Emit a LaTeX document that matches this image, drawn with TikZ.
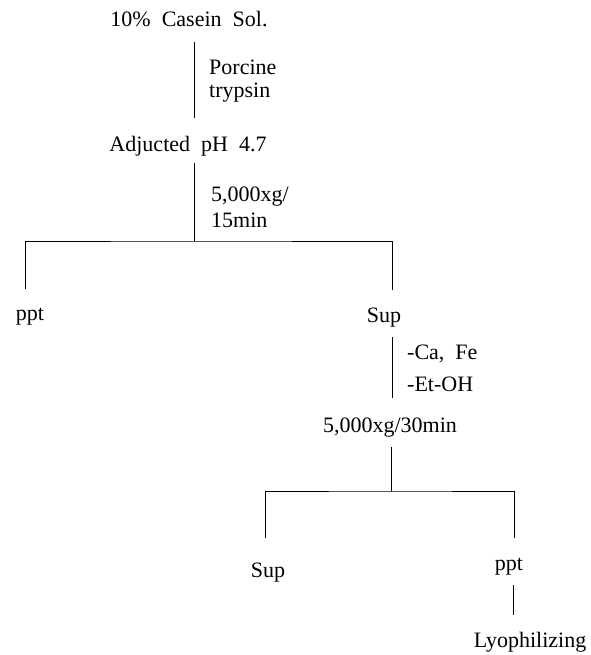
\documentclass[tikz,border=0pt]{standalone}
\usepackage{fontspec}
\setmainfont{Liberation Serif}
\usepackage{tikz}
\usetikzlibrary{positioning}
\tikzset{stage node/.style={inner sep=0pt,font=\fontsize{22}{23}\selectfont},
 note node/.style={stage node,align=left},
 flow line/.style={draw,line width=1pt},}

\begin{document}
\begin{tikzpicture}[x=1pt,y=-1pt]
	\useasboundingbox (0,0) rectangle (590,655);

    \node[stage node,anchor=base] (1) at (189,27) {10\%\hspace{11pt}Casein\hspace{11pt}Sol.};
    \node[stage node,anchor=base] (2) at (188,152) {Adjucted\hspace{11pt}pH\hspace{11pt}4.7};
    \node[stage node,anchor=base] (3) at (30,320) {ppt};
    \node[stage node,anchor=base] (4) at (384,322) {Sup};
    \node[stage node,anchor=base] (5) at (390,432) {5,000xg/30min};
    \node[stage node,anchor=base] (6) at (268,577) {Sup};
    \node[stage node,anchor=base] (7) at (509,570) {ppt};
    \node[stage node,anchor=base] (8) at (530,647) {Lyophilizing};

    \node[note node,anchor=north west] (n1) at (209,60) {Porcine\\trypsin};
    \node[note node,anchor=north west] (n2) at (211,187) {5,000xg/\\[3pt]15min};
    \node[note node,anchor=north west] (n3) at (407,345) {-Ca,\hspace{11pt}Fe\\[9pt]-Et-OH};

    \coordinate (b1) at (194,241);
    \coordinate (b2) at (391,491);

    \path[flow line,shorten <=14pt,shorten >=19pt] ([xshift=5pt]1.south) -- ([xshift=6pt]2.north);
    \path[flow line,shorten <=6pt] ([xshift=6pt]2.south) -- (b1);
    \path[flow line,shorten <=18pt,shorten >=17pt] ([xshift=-5pt]3.north) |- (b1) -| ([xshift=8pt]4.north);
    \path[flow line,shorten <=10pt,shorten >=19pt] ([xshift=8pt]4.south) -- ([xshift=8pt]4.south |- 5.north);
    \path[flow line,shorten <=10pt] (5.south -| b2) -- (b2);
    \path[flow line,shorten <=24pt,shorten >=19pt] ([xshift=-3pt]6.north) |- (b2) -| ([xshift=5pt]7.north);
    \path[flow line,shorten <=10pt,shorten >=17pt] ([xshift=4pt]7.south) -- ([xshift=4pt]7.south |- 8.north);

\end{tikzpicture}
\end{document}
